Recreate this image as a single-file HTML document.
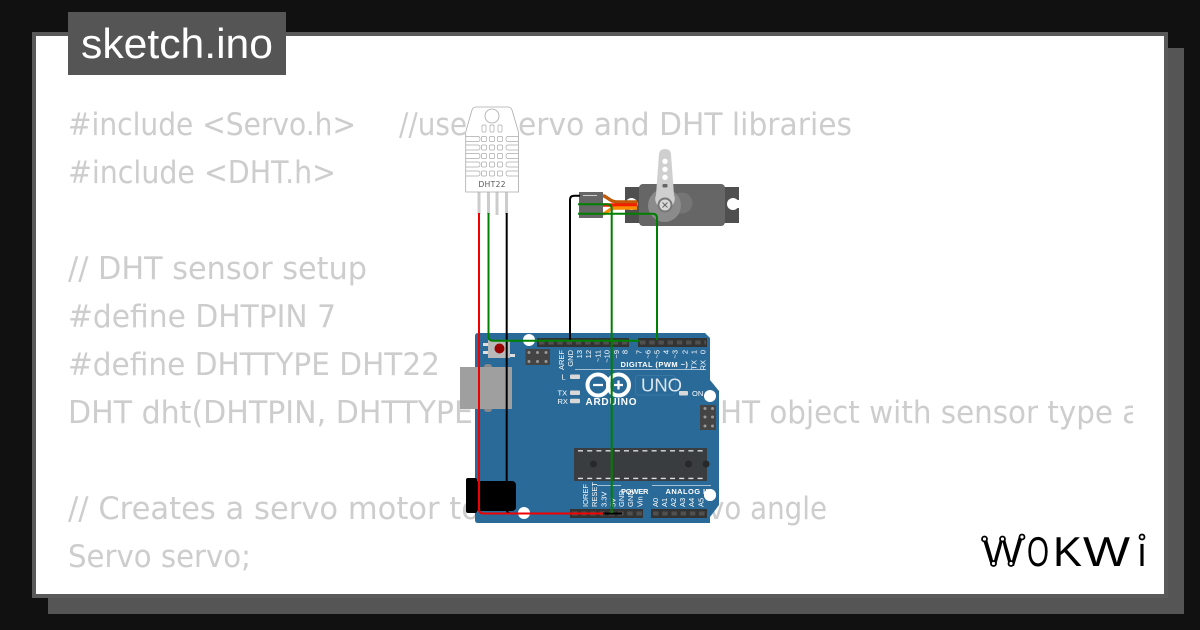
<!DOCTYPE html>
<html><head><meta charset="utf-8"><style>
html,body{margin:0;padding:0;background:#111}
svg{display:block}
.c{font-family:"DejaVu Sans",sans-serif;font-size:31.5px;fill:#cdcdcd}
.p{font-family:"Liberation Sans",sans-serif;font-size:7.5px;fill:#fff}
.b{font-family:"Liberation Sans",sans-serif;font-size:7.5px;fill:#fff;font-weight:bold;letter-spacing:.6px}
.w{font-family:"Liberation Sans",sans-serif;font-size:42px;fill:#000}
</style></head><body>
<svg width="1200" height="630" viewBox="0 0 1200 630" xmlns="http://www.w3.org/2000/svg">
<defs><clipPath id="cl"><rect x="60" y="90" width="1073" height="500"/></clipPath></defs>
<rect width="1200" height="630" fill="#111"/>
<rect x="48" y="48" width="1136" height="566" fill="#555"/>
<rect x="32" y="32" width="1136" height="566" fill="#5a5a5a"/>
<rect x="36" y="36" width="1128" height="558" fill="#fff"/>
<rect x="68" y="12" width="218" height="63" fill="#555"/>
<text x="81" y="58" font-family="Liberation Sans,sans-serif" font-size="42" fill="#fff" textLength="192" lengthAdjust="spacingAndGlyphs">sketch.ino</text>

<g clip-path="url(#cl)">
<text class="c" x="68" y="135" textLength="288" lengthAdjust="spacingAndGlyphs">#include &lt;Servo.h&gt;</text>
<text class="c" x="399" y="135" textLength="68" lengthAdjust="spacingAndGlyphs">//use</text>
<text class="c" x="518" y="135" textLength="334" lengthAdjust="spacingAndGlyphs">ervo and DHT libraries</text>
<text class="c" x="68" y="183" textLength="268" lengthAdjust="spacingAndGlyphs">#include &lt;DHT.h&gt;</text>
<text class="c" x="68" y="279" textLength="299" lengthAdjust="spacingAndGlyphs">// DHT sensor setup</text>
<text class="c" x="68" y="327" textLength="268" lengthAdjust="spacingAndGlyphs">#define DHTPIN 7</text>
<text class="c" x="68" y="375" textLength="372" lengthAdjust="spacingAndGlyphs">#define DHTTYPE DHT22</text>
<text class="c" x="68" y="423" textLength="405" lengthAdjust="spacingAndGlyphs">DHT dht(DHTPIN, DHTTYPE</text>
<text class="c" x="720" y="423" textLength="393" lengthAdjust="spacingAndGlyphs">HT object with sensor type</text>
<text class="c" x="1122" y="423">a</text>
<text class="c" x="68" y="519" textLength="412" lengthAdjust="spacingAndGlyphs">// Creates a servo motor to</text>
<text class="c" x="708" y="519" textLength="119" lengthAdjust="spacingAndGlyphs">vo angle</text>
<text class="c" x="68" y="567" textLength="183" lengthAdjust="spacingAndGlyphs">Servo servo;</text>
</g>

<!-- Arduino board -->
<path d="M478 333H705L710 338V380L719 391V505L710 517V523H478Q475 523 475 520V336Q475 333 478 333Z" fill="#2a6a99"/>
<circle cx="529" cy="340" r="6" fill="#fff"/><circle cx="710" cy="396" r="6" fill="#fff"/><circle cx="710" cy="495" r="6" fill="#fff"/><circle cx="524" cy="513" r="6" fill="#fff"/>
<!-- USB / jack -->
<rect x="484" y="364" width="8" height="48" rx="3" fill="#8a8a8a"/>
<rect x="460" y="367" width="52" height="42" fill="#9f9f9f"/>
<rect x="466" y="478" width="11" height="35" rx="2" fill="#000"/>
<rect x="475" y="481" width="41" height="30" rx="4" fill="#000"/>
<!-- Reset -->
<rect x="483" y="343" width="6" height="3" fill="#ddd"/><rect x="483" y="351" width="6" height="3" fill="#ddd"/><rect x="509" y="354" width="6" height="3" fill="#ddd"/>
<rect x="488" y="340" width="22" height="18" fill="#b9b9b9"/>
<circle cx="499.5" cy="348.5" r="5" fill="#990000"/>
<!-- ICSP -->
<rect x="525.5" y="349" width="24.5" height="16" fill="#444"/>
<g fill="#999"><circle cx="529" cy="352.5" r="1.5"/><circle cx="537.5" cy="352.5" r="1.5"/><circle cx="546" cy="352.5" r="1.5"/><circle cx="529" cy="361.5" r="1.5"/><circle cx="537.5" cy="361.5" r="1.5"/><circle cx="546" cy="361.5" r="1.5"/></g>
<rect x="700" y="405" width="16" height="25" fill="#444"/>
<g fill="#999"><circle cx="705" cy="408.5" r="1.5"/><circle cx="712.5" cy="408.5" r="1.5"/><circle cx="705" cy="417" r="1.5"/><circle cx="712.5" cy="417" r="1.5"/><circle cx="705" cy="426" r="1.5"/><circle cx="712.5" cy="426" r="1.5"/></g>
<!-- Headers -->
<g fill="#333">
<rect x="537" y="338" width="92" height="9"/><rect x="638" y="338" width="69" height="9"/>
<rect x="570" y="509" width="73" height="9"/><rect x="651" y="509" width="56" height="9"/>
</g>
<g stroke="#505050" stroke-width="4" stroke-dasharray="5.5 3.7" fill="none">
<path d="M539 342.5H628M640 342.5H706M572 513.5H642M653 513.5H706"/>
</g>
<!-- Chip -->
<rect x="574" y="448" width="133" height="33" rx="1" fill="#3a3d40"/>
<path d="M578 450.8H705M578 478.4H705" stroke="#ddd" stroke-width="1.4" stroke-dasharray="5 4.2"/>
<circle cx="593.5" cy="464" r="3.5" fill="#26282a"/><circle cx="688.5" cy="464" r="3.5" fill="#26282a"/><circle cx="706" cy="464" r="3.5" fill="#26282a"/>
<!-- Digital labels -->
<g text-anchor="end">
<text class="p" transform="translate(564,350) rotate(-90)">AREF</text>
<text class="p" transform="translate(573,350) rotate(-90)">GND</text>
<text class="p" transform="translate(582,350) rotate(-90)">13</text>
<text class="p" transform="translate(591,350) rotate(-90)">12</text>
<text class="p" transform="translate(600.5,350) rotate(-90)">~11</text>
<text class="p" transform="translate(609.5,350) rotate(-90)">~10</text>
<text class="p" transform="translate(619,350) rotate(-90)">~9</text>
<text class="p" transform="translate(627.5,350) rotate(-90)">8</text>
<text class="p" transform="translate(641.5,350) rotate(-90)">7</text>
<text class="p" transform="translate(650.5,350) rotate(-90)">~6</text>
<text class="p" transform="translate(659.5,350) rotate(-90)">~5</text>
<text class="p" transform="translate(668.5,350) rotate(-90)">4</text>
<text class="p" transform="translate(677.5,350) rotate(-90)">~3</text>
<text class="p" transform="translate(687.5,350) rotate(-90)">2</text>
<text class="p" transform="translate(696.5,350) rotate(-90)">1</text>
<text class="p" transform="translate(705.5,350) rotate(-90)">0</text>
<text class="p" transform="translate(696.5,360) rotate(-90)">TX</text>
<text class="p" transform="translate(705.5,360) rotate(-90)">RX</text>
</g>
<text class="b" x="620.5" y="367" textLength="68" lengthAdjust="spacing">DIGITAL (PWM ~)</text>
<path d="M575 369.5H706" stroke="#cfdde8" stroke-width=".7"/>
<!-- LEDs -->
<g fill="#d8d8d8"><rect x="570" y="374.5" width="10" height="4.5" rx="1"/><rect x="570" y="390.5" width="10" height="4.5" rx="1"/><rect x="570" y="398.8" width="10" height="4.5" rx="1"/><rect x="679" y="391" width="9" height="4.5" rx="1"/></g>
<text class="p" x="561.5" y="379.5">L</text><text class="p" x="557.5" y="395.5">TX</text><text class="p" x="557.5" y="404">RX</text><text class="p" x="692" y="396">ON</text>
<!-- Logo -->
<g fill="none" stroke="#fff" stroke-width="4"><circle cx="598" cy="385" r="10.5"/><circle cx="618.5" cy="385" r="10.5"/></g>
<path d="M593 385H603M614 385H623M618.5 380.5V389.5" stroke="#fff" stroke-width="2.2"/>
<text x="585.5" y="405" font-family="Liberation Sans,sans-serif" font-size="10" font-weight="bold" fill="#fff" textLength="51" lengthAdjust="spacing">ARDUINO</text>
<rect x="635.5" y="375.5" width="40" height="19.5" rx="3" fill="none" stroke="#3f7ba5" stroke-width=".8"/>
<text x="641" y="391.5" font-family="Liberation Sans,sans-serif" font-size="18" fill="#dce7ef" textLength="41" lengthAdjust="spacingAndGlyphs">UNO</text>
<!-- Bottom labels -->
<text class="b" x="621" y="494" textLength="28" lengthAdjust="spacing">POWER</text>
<text class="b" x="665.5" y="494" textLength="46" lengthAdjust="spacing">ANALOG IN</text>
<path d="M597 485.5H621M652 485.5H711" stroke="#cfdde8" stroke-width=".7"/>
<g>
<text class="p" transform="translate(588,507) rotate(-90)">IOREF</text>
<text class="p" transform="translate(597,507) rotate(-90)">RESET</text>
<text class="p" transform="translate(606.5,507) rotate(-90)">3.3V</text>
<text class="p" transform="translate(615.5,507) rotate(-90)">5V</text>
<text class="p" transform="translate(624,507) rotate(-90)">GND</text>
<text class="p" transform="translate(633,507) rotate(-90)">GND</text>
<text class="p" transform="translate(642.5,507) rotate(-90)">Vin</text>
<text class="p" transform="translate(658,507) rotate(-90)">A0</text>
<text class="p" transform="translate(667,507) rotate(-90)">A1</text>
<text class="p" transform="translate(676,507) rotate(-90)">A2</text>
<text class="p" transform="translate(685,507) rotate(-90)">A3</text>
<text class="p" transform="translate(694,507) rotate(-90)">A4</text>
<text class="p" transform="translate(703.5,507) rotate(-90)">A5</text>
</g>
<circle cx="710" cy="495" r="6" fill="#fff"/>

<!-- DHT22 -->
<g fill="#ccc"><rect x="477.5" y="192" width="3" height="22"/><rect x="487" y="192" width="3" height="22"/><rect x="495.5" y="192" width="3" height="23"/><rect x="505" y="192" width="3" height="22"/></g>
<path d="M465.7 132L472 110Q473 107 476 107H508Q511 107 512 110L518.5 132V192H465.7Z" fill="#fff" stroke="#aaa" stroke-width=".8" fill-opacity=".85"/>
<circle cx="492" cy="116" r="7" fill="#fff" stroke="#aaa" stroke-width=".8"/>
<g fill="none" stroke="#aaa" stroke-width=".7">
<rect x="482" y="125" width="4" height="7" rx=".8"/><rect x="490" y="125" width="4" height="7" rx=".8"/><rect x="498" y="125" width="4" height="7" rx=".8"/>
<path d="M466 136.5H478Q480 136.5 480 139T478 141.5H466M466 145H478Q480 145 480 147.5T478 150H466M466 153.5H478Q480 153.5 480 156T478 158.5H466M466 162H478Q480 162 480 164.5T478 167H466M466 171H478Q480 171 480 173.5T478 176H466"/>
<path d="M518 136.5H508Q506 136.5 506 139T508 141.5H518M518 145H508Q506 145 506 147.5T508 150H518M518 153.5H508Q506 153.5 506 156T508 158.5H518M518 162H508Q506 162 506 164.5T508 167H518M518 171H508Q506 171 506 173.5T508 176H518"/>
<rect x="481.5" y="136.5" width="5" height="5" rx="1"/><rect x="489.5" y="136.5" width="5" height="5" rx="1"/><rect x="497.5" y="136.5" width="5" height="5" rx="1"/>
<rect x="481.5" y="145" width="5" height="5" rx="1"/><rect x="489.5" y="145" width="5" height="5" rx="1"/><rect x="497.5" y="145" width="5" height="5" rx="1"/>
<rect x="481.5" y="153.5" width="5" height="5" rx="1"/><rect x="489.5" y="153.5" width="5" height="5" rx="1"/><rect x="497.5" y="153.5" width="5" height="5" rx="1"/>
<rect x="481.5" y="162" width="5" height="5" rx="1"/><rect x="489.5" y="162" width="5" height="5" rx="1"/><rect x="497.5" y="162" width="5" height="5" rx="1"/>
<rect x="481.5" y="171" width="5" height="5" rx="1"/><rect x="489.5" y="171" width="5" height="5" rx="1"/><rect x="497.5" y="171" width="5" height="5" rx="1"/>
</g>
<text x="478.5" y="187" font-family="DejaVu Sans,sans-serif" font-size="7.5" fill="#555" textLength="27" lengthAdjust="spacing">DHT22</text>

<!-- Servo -->
<rect x="625" y="187" width="114" height="36" fill="#4f4f4f"/>
<circle cx="631.5" cy="204" r="6" fill="#fff"/><circle cx="733" cy="204" r="6" fill="#fff"/><rect x="733" y="200" width="6" height="8" fill="#fff"/>
<rect x="639" y="184" width="86" height="42" rx="4" fill="#666"/>
<circle cx="682" cy="203" r="10.5" fill="#757575"/>
<circle cx="664.500" cy="205.5" r="16.5" fill="#8b8b8b"/>
<path d="M659 154Q659.500 149 665 149Q670.500 149 671 154L674 195A9.800 9.800 0 1 1 656 195Z" fill="#cfcfcf"/>
<circle cx="665" cy="161.3" r="2.7" fill="#fff"/><circle cx="665" cy="169.3" r="2.7" fill="#fff"/><circle cx="665" cy="177.3" r="2.7" fill="#fff"/>
<rect x="662.5" y="184" width="5" height="3.5" rx="1" fill="#666"/>
<circle cx="665" cy="205" r="7.5" fill="#777"/><circle cx="665" cy="205" r="5.5" fill="#d8d8d8"/>
<path d="M662.5 202.5L667.5 207.500M667.5 202.5L662.5 207.5" stroke="#666" stroke-width="1"/>
<!-- Servo wires -->
<g fill="none" stroke-width="3.4">
<path d="M603 195.5C609 198 610 201.500 617 202H637" stroke="#c25a08"/>
<path d="M603 205H637" stroke="#f02000"/>
<path d="M603 214C609 212 609 208 616 208H637" stroke="#f98b05"/>
</g>
<rect x="579" y="192" width="24" height="26" fill="#666"/>
<path d="M583 195.5H597M583 204.5H597M583 213.5H597" stroke="#ccc" stroke-width="1"/>

<!-- Wires -->
<g fill="none" stroke-width="2">
<path d="M580 195.7H574Q570 195.7 570 199.7V341" stroke="#000"/>
<path d="M506.7 213V509Q506.700 513.5 511 513.5H622" stroke="#000"/>
<path d="M488.5 213V336Q488.5 340.7 493 340.7H640" stroke="#008000"/>
<path d="M578 204.3H607Q611.7 204.3 611.7 209V513" stroke="#008000"/>
<path d="M578 213.7H652.5Q657 213.7 657 218V340" stroke="#008000"/>
<path d="M479 213V509Q479 513.5 483.5 513.5H603" stroke="#f00000"/>
</g>

<!-- WOKWI logo -->
<text class="w" x="982" y="566" textLength="41" lengthAdjust="spacingAndGlyphs">W</text>
<text class="w" x="1027" y="566" textLength="22" lengthAdjust="spacingAndGlyphs">O</text>
<text class="w" x="1053" y="566" textLength="29" lengthAdjust="spacingAndGlyphs">K</text>
<text class="w" x="1083" y="566" textLength="47" lengthAdjust="spacingAndGlyphs">W</text>
<text class="w" x="1137" y="566" textLength="10" lengthAdjust="spacingAndGlyphs">ı</text>
<g fill="#fff" stroke="#000" stroke-width="1.8"><circle cx="984.5" cy="539" r="2.5"/><circle cx="1002.5" cy="539" r="2.5"/><circle cx="1022" cy="537" r="2.5"/><circle cx="993.5" cy="563.5" r="2.5"/><circle cx="1011" cy="563.5" r="2.5"/><circle cx="1142" cy="537" r="2.5"/></g>
</svg>
</body></html>
